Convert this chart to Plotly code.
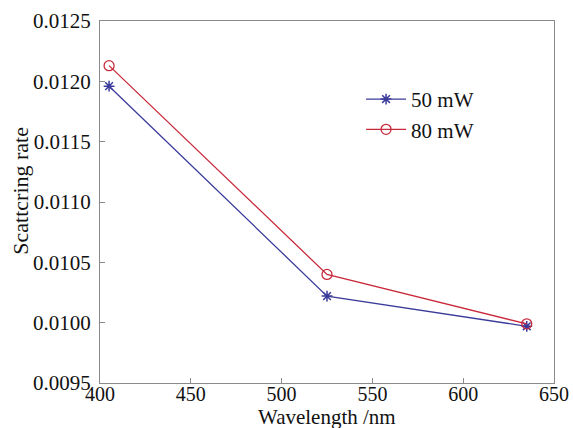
import plotly.graph_objects as go

wavelength = [405, 525, 635]
rate_50mw = [0.01196, 0.01022, 0.00997]
rate_80mw = [0.01213, 0.01040, 0.00999]
series_names = ["50 mW", "80 mW"]
x_ticks = [400, 450, 500, 550, 600, 650]
y_ticks = [0.0095, 0.0100, 0.0105, 0.0110, 0.0115, 0.0120, 0.0125]
y_tick_text = ["0.0095", "0.0100", "0.0105", "0.0110", "0.0115", "0.0120", "0.0125"]

FONT = "Liberation Serif"
fig = go.Figure()
fig.add_trace(go.Scatter(x=wavelength, y=rate_50mw, name=series_names[0], mode="lines+markers",
                         line=dict(color="#3b3b9b", width=1.3),
                         marker=dict(symbol="asterisk-open", size=9, color="#3b3b9b", line=dict(width=1.5, color="#3b3b9b"))))
fig.add_trace(go.Scatter(x=wavelength, y=rate_80mw, name=series_names[1], mode="lines+markers",
                         line=dict(color="#c82a3c", width=1.3),
                         marker=dict(symbol="circle-open", size=10, color="#c82a3c", line=dict(width=1.3, color="#c82a3c"))))

axis_common = dict(showline=True, linecolor="#8a8a8a", linewidth=1.2, mirror=True, automargin=False,
                   ticks="inside", ticklen=5, tickcolor="#8a8a8a", showgrid=False, zeroline=False,
                   tickfont=dict(family=FONT, size=21, color="#111"))
fig.update_xaxes(range=[400, 650], tickvals=x_ticks, ticklabelstandoff=-7, **axis_common)
fig.update_xaxes(tickfont=dict(family=FONT, size=20, color="#111"))
fig.update_yaxes(range=[0.0095, 0.0125], tickvals=y_ticks, ticktext=y_tick_text,
                 ticklabelstandoff=4, **axis_common)
fig.add_annotation(text="Wavelength /nm", xref="paper", yref="paper",
                   x=0.5, y=-0.094, xanchor="center", yanchor="middle", showarrow=False,
                   font=dict(family=FONT, size=21, color="#111"))
fig.add_annotation(text="Scattcring rate", textangle=-90, xref="paper", yref="paper",
                   x=-0.175, y=0.53, xanchor="center", yanchor="middle", showarrow=False,
                   font=dict(family=FONT, size=22, color="#111"))
fig.update_layout(width=573, height=428, paper_bgcolor="white", plot_bgcolor="white",
                  margin=dict(l=100, r=19, t=21, b=45),
                  legend=dict(x=0.575, y=0.84, xanchor="left", yanchor="top", bgcolor="rgba(0,0,0,0)",
                              font=dict(family=FONT, size=21, color="#111"), itemwidth=40,
                              tracegroupgap=0))
fig.write_html("out.html", config={"displayModeBar": False},
               post_script="document.body.style.margin='0';")
